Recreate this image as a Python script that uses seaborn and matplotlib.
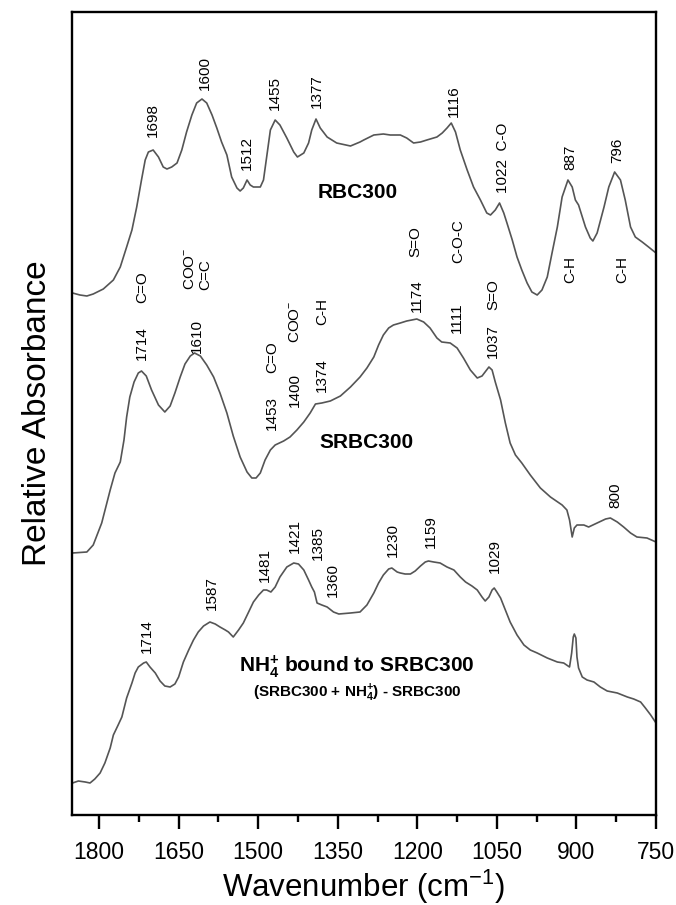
import numpy as np
import pandas as pd
import matplotlib
matplotlib.use("Agg")
import matplotlib.pyplot as plt
import seaborn as sns

sns.set_style("ticks")
plt.rcParams['font.family'] = ['Liberation Sans', 'DejaVu Sans']
plt.rcParams['mathtext.fontset'] = 'custom'
plt.rcParams['mathtext.rm'] = 'Liberation Sans'
plt.rcParams['mathtext.it'] = 'Liberation Sans:italic'
plt.rcParams['mathtext.bf'] = 'Liberation Sans:bold'
plt.rcParams['text.color'] = 'black'
plt.rcParams['axes.labelcolor'] = 'black'
plt.rcParams['xtick.color'] = 'black'

# ---------------- data ----------------
wn_rbc = [1850, 1836, 1823, 1811, 1792, 1773, 1760, 1748, 1738, 1729,
          1720, 1713, 1707, 1698, 1688, 1679, 1672, 1663, 1653, 1644,
          1635, 1625, 1616, 1606, 1597, 1587, 1578, 1569, 1559, 1550,
          1540, 1534, 1528, 1521, 1515, 1509, 1496, 1490, 1484, 1477,
          1468, 1459, 1446, 1433, 1426, 1414, 1405, 1399, 1391, 1383,
          1370, 1352, 1326, 1308,
          1301, 1282, 1264, 1251, 1232, 1220, 1207, 1194, 1182, 1163,
          1153, 1144, 1136, 1128, 1119, 1106, 1094, 1081, 1069, 1062,
          1053, 1045, 1037, 1031, 1021, 1012, 1003, 993, 984, 974,
          965, 955, 946, 936, 927, 916, 908, 902, 896, 883,
          874, 869, 861, 848, 839, 828, 817, 808, 798, 789,
          776, 764, 750]
abs_rbc = [5.22, 5.20, 5.19, 5.21, 5.26, 5.35, 5.48, 5.68, 5.85, 6.08,
           6.35, 6.55, 6.63, 6.65, 6.58, 6.48, 6.46, 6.48, 6.52, 6.65,
           6.83, 7.00, 7.12, 7.16, 7.12, 7.00, 6.87, 6.73, 6.60, 6.38,
           6.27, 6.24, 6.27, 6.35, 6.30, 6.28, 6.28, 6.35, 6.58, 6.85,
           6.95, 6.90, 6.77, 6.63, 6.58, 6.62, 6.72, 6.85, 6.96, 6.87,
           6.78, 6.72, 6.69, 6.73,
           6.75, 6.80, 6.81, 6.80, 6.80, 6.77, 6.72, 6.73, 6.75, 6.78,
           6.82, 6.87, 6.92, 6.83, 6.65, 6.45, 6.28, 6.15, 6.02, 6.00,
           6.05, 6.12, 6.02, 5.92, 5.75, 5.58, 5.45, 5.32, 5.23, 5.20,
           5.25, 5.38, 5.62, 5.88, 6.18, 6.35, 6.28, 6.15, 6.10, 5.88,
           5.77, 5.74, 5.82, 6.08, 6.28, 6.43, 6.35, 6.15, 5.88, 5.78,
           5.73, 5.68, 5.62]

wn_srbc = [1850, 1823, 1811, 1795, 1779, 1770, 1760, 1753, 1748, 1742,
           1734, 1726, 1720, 1711, 1701, 1688, 1676, 1666, 1657, 1647,
           1638, 1628, 1620, 1609, 1597, 1584, 1572, 1559, 1547, 1534,
           1521, 1512, 1504, 1496, 1487, 1477, 1468, 1452, 1440, 1427,
           1414, 1402, 1392, 1380, 1364, 1345, 1326, 1308,
           1295, 1282, 1273, 1264, 1254, 1245, 1232, 1220, 1201, 1188,
           1176, 1163, 1154, 1138, 1125, 1113, 1100, 1087, 1078, 1065,
           1059, 1053, 1043, 1034, 1025, 1015, 1003, 987, 968, 949,
           927, 918, 913, 908, 904, 899, 886, 877, 861, 845,
           836, 823, 811, 798, 786, 767, 750]
abs_srbc = [2.62, 2.63, 2.70, 2.92, 3.25, 3.42, 3.53, 3.75, 3.98, 4.18,
            4.33, 4.42, 4.44, 4.39, 4.25, 4.10, 4.03, 4.09, 4.22, 4.38,
            4.51, 4.59, 4.62, 4.59, 4.50, 4.38, 4.22, 4.02, 3.79, 3.58,
            3.43, 3.37, 3.37, 3.42, 3.55, 3.65, 3.70, 3.74, 3.78, 3.85,
            3.93, 4.02, 4.11, 4.12, 4.14, 4.19, 4.28, 4.38,
            4.47, 4.58, 4.70, 4.80, 4.87, 4.90, 4.92, 4.94, 4.96, 4.93,
            4.87, 4.77, 4.73, 4.72, 4.67, 4.57, 4.45, 4.37, 4.39, 4.48,
            4.45, 4.33, 4.15, 3.92, 3.72, 3.60, 3.52, 3.40, 3.27, 3.18,
            3.10, 3.05, 2.95, 2.78, 2.87, 2.90, 2.90, 2.88, 2.92, 2.96,
            2.97, 2.93, 2.88, 2.82, 2.78, 2.77, 2.73]

wn_nh4 = [1850, 1839, 1826, 1817, 1808, 1798, 1789, 1779, 1773, 1764,
          1757, 1748, 1738, 1732, 1726, 1716, 1711, 1704, 1694, 1685,
          1676, 1666, 1657, 1650, 1641, 1631, 1622, 1613, 1603, 1591,
          1581, 1572, 1562, 1556, 1547, 1537, 1528, 1518, 1509, 1499,
          1490, 1484, 1476, 1468, 1459, 1446, 1433, 1424, 1414, 1405,
          1399, 1394, 1389, 1380, 1370, 1358, 1348, 1326, 1308,
          1295, 1282, 1273, 1264, 1254, 1248, 1238, 1232, 1223, 1213,
          1204, 1194, 1185, 1179, 1169, 1157, 1144, 1131, 1119, 1109,
          1097, 1087, 1078, 1072, 1065, 1059, 1055, 1050, 1043, 1034,
          1025, 1012, 999, 987, 974, 955, 936, 924, 913, 909,
          906, 904, 901, 899, 896, 889, 880, 867, 855, 842,
          823, 804, 792, 779, 770, 760, 750]
abs_nh4 = [0.32, 0.34, 0.33, 0.32, 0.36, 0.42, 0.52, 0.67, 0.80, 0.90,
           0.98, 1.17, 1.32, 1.42, 1.48, 1.52, 1.53, 1.48, 1.42, 1.34,
           1.29, 1.28, 1.31, 1.38, 1.53, 1.65, 1.75, 1.83, 1.89, 1.93,
           1.91, 1.88, 1.85, 1.83, 1.78, 1.85, 1.92, 2.03, 2.13, 2.20,
           2.25, 2.25, 2.23, 2.28, 2.38, 2.48, 2.52, 2.51, 2.45, 2.35,
           2.28, 2.23, 2.12, 2.10, 2.08, 2.03, 2.01, 2.02, 2.03,
           2.10, 2.22, 2.32, 2.40, 2.46, 2.47, 2.43, 2.42, 2.41, 2.41,
           2.44, 2.49, 2.53, 2.54, 2.53, 2.52, 2.48, 2.45, 2.38, 2.33,
           2.29, 2.25, 2.18, 2.14, 2.18, 2.25, 2.27, 2.23, 2.17, 2.05,
           1.93, 1.80, 1.70, 1.65, 1.62, 1.57, 1.53, 1.52, 1.48, 1.62,
           1.78, 1.81, 1.77, 1.58, 1.47, 1.38, 1.35, 1.33, 1.28, 1.24,
           1.22, 1.18, 1.16, 1.13, 1.07, 1.00, 0.92]

x_ticks = [1800, 1650, 1500, 1350, 1200, 1050, 900, 750]
x_minor = [1725, 1575, 1425, 1275, 1125, 975, 825]

# peak labels: (text, wavenumber, absorbance at label bottom)
peak_labels = [
    ("1698", 1698, 6.78), ("1600", 1600, 7.25), ("1512", 1521, 6.45),
    ("1455", 1468, 7.05), ("1377", 1389, 7.07), ("1116", 1132, 6.98),
    ("1022  C-O", 1038, 6.22), ("887", 911, 6.45), ("796", 823, 6.52),
    ("1714", 1719, 4.55), ("C=O", 1719, 5.12), ("1610", 1615, 4.62),
    ("1453", 1474, 3.85), ("C=O", 1474, 4.42),
    ("1400", 1430, 4.08), ("COO$^{-}$", 1430, 4.72),
    ("1374", 1379, 4.23), ("C-H", 1379, 4.90),
    ("1174", 1200, 5.03), ("S=O", 1203, 5.58),
    ("1111", 1125, 4.82), ("C-O-C", 1123, 5.52),
    ("1037", 1057, 4.57), ("S=O", 1057, 5.05),
    ("800", 826, 3.07),
    ("1714", 1709, 1.62), ("1587", 1587, 2.05), ("1481", 1487, 2.33),
    ("1421", 1430, 2.62), ("1385", 1387, 2.55), ("1360", 1360, 2.18),
    ("1230", 1247, 2.58), ("1159", 1175, 2.67), ("1029", 1053, 2.42),
]
group_label = ("COO$^{-}$\nC=C", 1614, 5.25)
ch_labels = [("C-H", 911, 5.45), ("C-H", 813, 5.45)]
names = [("RBC300", 1313, 6.22, 15), ("SRBC300", 1296, 3.73, 15),
         ("NH$_\\mathbf{4}^\\mathbf{+}$ bound to SRBC300", 1315, 1.48, 15),
         ("(SRBC300 + NH$_\\mathbf{4}^\\mathbf{+}$) - SRBC300", 1313, 1.22, 11)]

df = pd.concat([
    pd.DataFrame({"wn": wn_rbc, "A": abs_rbc, "s": "RBC300"}),
    pd.DataFrame({"wn": wn_srbc, "A": abs_srbc, "s": "SRBC300"}),
    pd.DataFrame({"wn": wn_nh4, "A": abs_nh4, "s": "NH4"}),
])

# ---------------- figure ----------------
fig = plt.figure(figsize=(6.76, 9.05), dpi=100)
ax = fig.add_axes([72/676, 90/905, (656-72)/676, (815-12)/905])

col = "#555555"
for s in ["RBC300", "SRBC300", "NH4"]:
    sns.lineplot(data=df[df.s == s], x="wn", y="A", ax=ax, color=col,
                 lw=1.2, estimator=None, sort=False, legend=False)

ax.set_xlim(1851, 750)
ax.set_ylim(0, 8.03)
ax.set_xticks(x_ticks)
ax.set_xticks(x_minor, minor=True)
ax.set_yticks([])
ax.tick_params(axis='x', which='major', direction='out', length=10, width=1.7,
               labelsize=16.5, pad=8.5, colors='black')
ax.tick_params(axis='x', which='minor', direction='out', length=5, width=1.7,
               colors='black')
for sp in ax.spines.values():
    sp.set_linewidth(1.7)
    sp.set_color('black')

ax.set_xlabel("Wavenumber (cm$^{-1}$)", fontsize=22.5, labelpad=3)
ax.set_ylabel("Relative Absorbance", fontsize=24, labelpad=14)

fs = 11
for t, x, y in peak_labels:
    ax.text(x, y, t, rotation=90, ha='center', va='bottom', fontsize=fs)
t, x, y = group_label
ax.text(x, y, t, rotation=90, ha='center', va='bottom', fontsize=fs,
        multialignment='left', linespacing=1.15)
for t, x, y in ch_labels:
    ax.text(x, y, t, rotation=90, ha='center', va='center', fontsize=fs)
for t, x, y, f in names:
    ax.text(x, y, t, ha='center', va='center', fontsize=f, fontweight='bold')

fig.savefig("out.png", dpi=100)
